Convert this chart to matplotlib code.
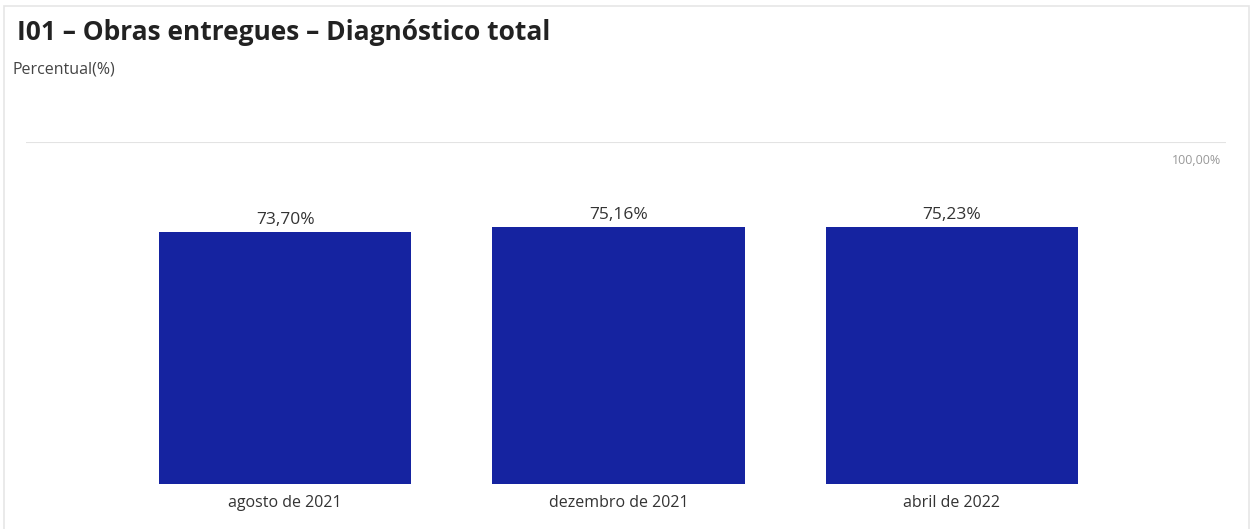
import numpy as np
import matplotlib
matplotlib.use("Agg")
from matplotlib import pyplot as plt
from matplotlib.patches import Rectangle

periods = ["agosto de 2021", "dezembro de 2021", "abril de 2022"]
percent = [73.70, 75.16, 75.23]
bar_color = "#1523A0"

plt.rcParams['font.family'] = ['Open Sans', 'DejaVu Sans']

W, H = 1256, 529
fig = plt.figure(figsize=(W / 100, H / 100), dpi=100)

# light frame round the visual (bottom edge runs off the image)
fig.patches.append(Rectangle((4 / W, -0.05), (1249 - 4) / W, 1.05 - 6 / H, transform=fig.transFigure,
                             fill=False, edgecolor="#e6e6e6", linewidth=1.2))

ax = fig.add_axes([26 / W, 1 - 484 / H, 1200 / W, (484 - 142) / H])
x = np.arange(len(periods))
ax.bar(x, percent, width=0.756, color=bar_color)
ax.set_xlim(-0.777, 2.822)
ax.set_ylim(0, 100)

for xi, v in zip(x, percent):
    ax.text(xi, v + 1.2, f"{v:.2f}%".replace(".", ","), ha="center", va="bottom",
            fontsize=12.5, color="#333333")

ax.axhline(100, color="#e3e3e3", linewidth=1.5)
ax.text(1195 / 1200, 0.965, "100,00%", transform=ax.transAxes, ha="right", va="top",
        fontsize=9, color="#999999")

ax.set_xticks(x)
ax.set_xticklabels(periods, fontsize=11.5, color="#333333")
ax.tick_params(axis="x", length=0, pad=8)
ax.set_yticks([])
for s in ax.spines.values():
    s.set_visible(False)

fig.text(17 / W, 1 - 33 / H, "I01 – Obras entregues – Diagnóstico total", fontsize=19,
         fontweight="bold", color="#222222", va="center")
fig.text(12 / W, 1 - 70 / H, "Percentual(%)", fontsize=11.5, color="#444444", va="center")

fig.savefig("out.png", dpi=100)
